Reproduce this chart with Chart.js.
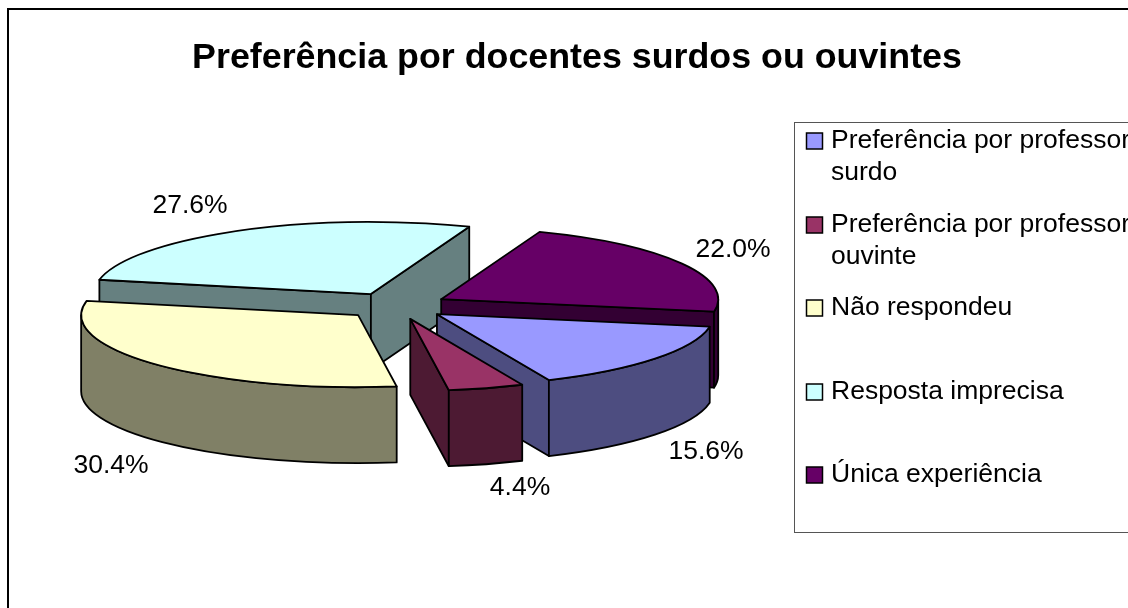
<!DOCTYPE html>
<html lang="pt">
<head>
<meta charset="utf-8">
<title>Preferência por docentes surdos ou ouvintes</title>
<script src="https://cdn.jsdelivr.net/npm/chart.js@4"></script>
<style>
    html, body { margin: 0; padding: 0; background: #fff; overflow: hidden; width: 1128px; height: 608px; }
    #wrap { position: absolute; left: 0; top: 0; width: 1154px; height: 608px; }
</style>
</head>
<body>
<div id="wrap"><canvas id="pizza" width="1154" height="608"></canvas></div>
<script>
// Dados do gráfico
const categorias = ['Preferência por professor surdo', 'Preferência por professor ouvinte', 'Não respondeu', 'Resposta imprecisa', 'Única experiência'];
const percentuais = [15.6, 4.4, 30.4, 27.6, 22.0];
const tituloGrafico = 'Preferência por docentes surdos ou ouvintes';

// Cores do topo e da parede de cada fatia
const coresTopo = ['#9999FF', '#993366', '#FFFFCC', '#CCFFFF', '#660066'];
const coresParede = ['#4D4D80', '#4D1A33', '#808066', '#668080', '#330033'];

// Aparência 3D
const ACHATAMENTO = 0.26;
const PROFUNDIDADE = 76;
const EXPLOSAO = 52;
const ordemDesenho = [3, 4, 2, 0, 1]; // de trás para a frente
const posRotulos = [[706, 452], [520, 488], [111, 466], [190, 206], [733, 250]];
const linhasLegenda = [['Preferência por professor', 'surdo'], ['Preferência por professor', 'ouvinte'], ['Não respondeu'], ['Resposta imprecisa'], ['Única experiência']];
const yLegenda = [141, 225, 308, 392, 475];
const fonte = '"Liberation Sans", Arial, sans-serif';

// Parede radial (borda reta da fatia) descendo até a base
function paredeRadial(ctx, cx, cy, r, ang, cor) {
    const px = cx + Math.cos(ang) * r;
    const py = cy + Math.sin(ang) * r * ACHATAMENTO;
    ctx.beginPath();
    ctx.moveTo(cx, cy);
    ctx.lineTo(px, py);
    ctx.lineTo(px, py + PROFUNDIDADE);
    ctx.lineTo(cx, cy + PROFUNDIDADE);
    ctx.closePath();
    ctx.fillStyle = cor;
    ctx.fill();
    ctx.stroke();
}

// Parede curva: só o trecho virado para a frente (0 a 180 graus)
function paredeCurva(ctx, cx, cy, r, a, b, cor) {
    const volta = Math.PI * 2;
    [0, volta].forEach(function (base) {
        const ini = Math.max(a, base);
        const fim = Math.min(b, base + Math.PI);
        if (fim <= ini) return;
        ctx.beginPath();
        ctx.ellipse(cx, cy, r, r * ACHATAMENTO, 0, ini, fim);
        ctx.ellipse(cx, cy + PROFUNDIDADE, r, r * ACHATAMENTO, 0, fim, ini, true);
        ctx.closePath();
        ctx.fillStyle = cor;
        ctx.fill();
        ctx.stroke();
    });
}

const pizza3d = {
    id: 'pizza3d',
    afterLayout(chart) {
        // o título centraliza na largura toda, não só na área da pizza
        chart.titleBlock.left = 0;
        chart.titleBlock.right = chart.width;
    },
    beforeDraw(chart) {
        // moldura externa do gráfico
        const ctx = chart.ctx;
        ctx.save();
        ctx.strokeStyle = '#000';
        ctx.lineWidth = 2;
        ctx.strokeRect(8, 9, 1400, 800);
        ctx.restore();
    },
    beforeDatasetDraw(chart, args) {
        const ctx = chart.ctx;
        const arcos = args.meta.data;
        ctx.save();
        ctx.lineJoin = 'round';
        ctx.strokeStyle = '#000';
        ctx.lineWidth = 1.8;
        ordemDesenho.forEach(function (i) {
            const el = arcos[i];
            const a = el.startAngle;
            const b = el.endAngle;
            const meio = (a + b) / 2;
            const cx = el.x + Math.cos(meio) * EXPLOSAO;
            const cy = el.y + Math.sin(meio) * EXPLOSAO * ACHATAMENTO;
            const r = el.outerRadius;

            if (Math.cos(a) < 0) paredeRadial(ctx, cx, cy, r, a, coresParede[i]);
            if (Math.cos(b) > 0) paredeRadial(ctx, cx, cy, r, b, coresParede[i]);
            paredeCurva(ctx, cx, cy, r, a, b, coresParede[i]);

            // o topo é o próprio arco do Chart.js, achatado
            ctx.save();
            ctx.translate(cx, cy);
            ctx.scale(1, ACHATAMENTO);
            ctx.translate(-el.x, -el.y);
            el.draw(ctx);
            ctx.restore();

            ctx.beginPath();
            ctx.moveTo(cx, cy);
            ctx.ellipse(cx, cy, r, r * ACHATAMENTO, 0, a, b);
            ctx.closePath();
            ctx.stroke();
        });
        ctx.restore();
        return false;
    },
    afterDraw(chart) {
        const ctx = chart.ctx;
        ctx.save();
        ctx.fillStyle = '#000';
        ctx.font = '26.5px ' + fonte;
        ctx.textAlign = 'center';
        ctx.textBaseline = 'middle';
        percentuais.forEach(function (v, i) {
            ctx.fillText(v.toFixed(1) + '%', posRotulos[i][0], posRotulos[i][1]);
        });

        // legenda
        ctx.strokeStyle = '#555';
        ctx.lineWidth = 1;
        ctx.strokeRect(794.5, 122.5, 500, 410);
        ctx.textAlign = 'left';
        linhasLegenda.forEach(function (linhas, i) {
            const y = yLegenda[i];
            ctx.fillStyle = coresTopo[i];
            ctx.fillRect(806.5, y - 8, 16, 16);
            ctx.strokeStyle = '#000';
            ctx.lineWidth = 1.5;
            ctx.strokeRect(806.5, y - 8, 16, 16);
            ctx.fillStyle = '#000';
            linhas.forEach(function (txt, n) {
                ctx.fillText(txt, 831, y + n * 32);
            });
        });
        ctx.restore();
    }
};

const grafico = new Chart(document.getElementById('pizza').getContext('2d'), {
    type: 'pie',
    data: {
        labels: categorias,
        datasets: [{
            data: percentuais,
            backgroundColor: coresTopo,
            borderWidth: 0
        }]
    },
    options: {
        responsive: false,
        animation: false,
        events: [],
        rotation: 100,
        radius: 277,
        layout: { padding: { right: 362, bottom: 85.6 } },
        plugins: {
            legend: { display: false },
            tooltip: { enabled: false },
            title: {
                display: true,
                text: tituloGrafico,
                color: '#000',
                font: { family: fonte, size: 35.8, weight: 'bold' },
                padding: { top: 37, bottom: 9.4 }
            }
        }
    },
    plugins: [pizza3d]
});
</script>
</body>
</html>
